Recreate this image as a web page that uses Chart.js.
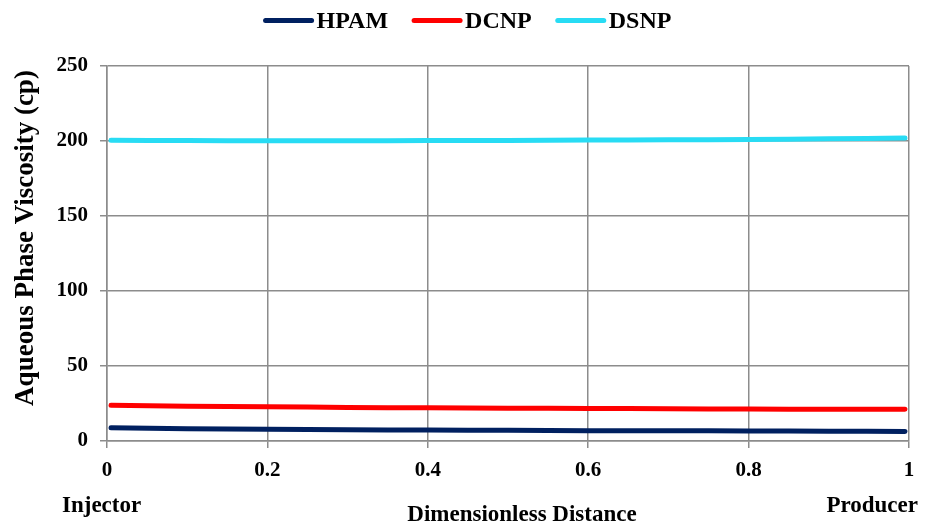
<!DOCTYPE html>
<html>
<head>
<meta charset="utf-8">
<script src="https://cdn.jsdelivr.net/npm/chart.js@4"></script>
<style>
html,body{margin:0;padding:0;background:#fff;}
#wrap{width:931px;height:531px;}
</style>
</head>
<body>
<div id="wrap"><canvas id="c" width="931" height="531"></canvas></div>
<script>
const distance = [0.005, 0.1, 0.2, 0.3, 0.4, 0.5, 0.6, 0.7, 0.8, 0.9, 0.995];
const hpam = [8.8, 8.2, 7.8, 7.5, 7.3, 7.1, 6.9, 6.8, 6.7, 6.5, 6.4];
const dcnp = [23.8, 23.2, 22.8, 22.4, 22.1, 21.9, 21.7, 21.5, 21.3, 21.2, 21.1];
const dsnp = [200.5, 200.3, 200.2, 200.2, 200.3, 200.4, 200.6, 200.8, 201.0, 201.5, 202.0];
const seriesNames = ['HPAM', 'DCNP', 'DSNP'];
const seriesColors = ['#002060', '#ff0000', '#28dcf4'];
const endLabels = ['Injector', 'Producer'];
const xTitle = 'Dimensionless Distance';
const yTitle = 'Aqueous Phase Viscosity (cp)';

const toPts = arr => arr.map((v, i) => ({x: distance[i], y: v}));
const serif = "'Liberation Serif', 'Times New Roman', serif";

const labelsPlugin = {
  id: 'customLabels',
  afterDraw(chart) {
    const ctx = chart.ctx;
    ctx.save();
    ctx.fillStyle = '#000';
    // end labels
    ctx.font = 'bold 23px ' + serif;
    ctx.textBaseline = 'alphabetic';
    ctx.textAlign = 'left';
    ctx.fillText(endLabels[0], 62, 512);
    ctx.textAlign = 'right';
    ctx.fillText(endLabels[1], 918, 512);
    // x title
    ctx.font = 'bold 23px ' + serif;
    ctx.textAlign = 'center';
    ctx.fillText(xTitle, 522, 521);
    // y title
    ctx.save();
    ctx.translate(33, 238);
    ctx.rotate(-Math.PI / 2);
    ctx.font = 'bold 27px ' + serif;
    ctx.textAlign = 'center';
    ctx.textBaseline = 'alphabetic';
    ctx.fillText(yTitle, 0, 0);
    ctx.restore();
    // legend
    ctx.font = 'bold 24px ' + serif;
    ctx.textAlign = 'left';
    ctx.textBaseline = 'alphabetic';
    const items = chart.data.datasets.map(d => ({label: d.label, color: d.borderColor, w: ctx.measureText(d.label).width}));
    const lineW = 50, gap = 3, sep = 24;
    let total = 0;
    items.forEach((it, i) => { total += lineW + gap + it.w + (i < items.length - 1 ? sep : 0); });
    let x = 467.5 - total / 2;
    items.forEach(it => {
      ctx.strokeStyle = it.color;
      ctx.lineWidth = 5;
      ctx.lineCap = 'round';
      ctx.beginPath();
      ctx.moveTo(x + 2, 20.5);
      ctx.lineTo(x + lineW - 2, 20.5);
      ctx.stroke();
      x += lineW + gap;
      ctx.fillText(it.label, x, 28);
      x += it.w + sep;
    });
    ctx.restore();
  }
};

new Chart(document.getElementById('c'), {
  type: 'scatter',
  data: {
    datasets: [hpam, dcnp, dsnp].map((arr, i) => ({
      label: seriesNames[i],
      data: toPts(arr),
      showLine: true,
      borderColor: seriesColors[i],
      backgroundColor: seriesColors[i],
      borderWidth: 5,
      pointRadius: 0,
      tension: 0.4,
      borderCapStyle: 'round'
    }))
  },
  options: {
    responsive: false,
    animation: false,
    layout: {padding: {top: 66, right: 22, bottom: 0, left: 0}},
    plugins: {
      legend: {display: false},
      tooltip: {enabled: false}
    },
    scales: {
      x: {
        type: 'linear',
        min: 0, max: 1,
        afterFit: s => { s.height = 90; },
        ticks: {
          stepSize: 0.2,
          font: {family: serif, size: 21, weight: 'bold'},
          color: '#000',
          padding: 10,
          maxRotation: 0,
          callback: v => (Math.round(v * 10) / 10).toString()
        },
        grid: {color: '#8c8c8c', lineWidth: 1.5, tickLength: 7},
        border: {color: '#8c8c8c', width: 1.5}
      },
      y: {
        min: 0, max: 250,
        afterFit: s => { s.width = 107; },
        ticks: {
          stepSize: 50,
          font: {family: serif, size: 21, weight: 'bold'},
          color: '#000',
          padding: 12
        },
        grid: {color: '#8c8c8c', lineWidth: 1.5, tickLength: 7},
        border: {color: '#8c8c8c', width: 1.5}
      }
    }
  },
  plugins: [labelsPlugin]
});
</script>
</body>
</html>
